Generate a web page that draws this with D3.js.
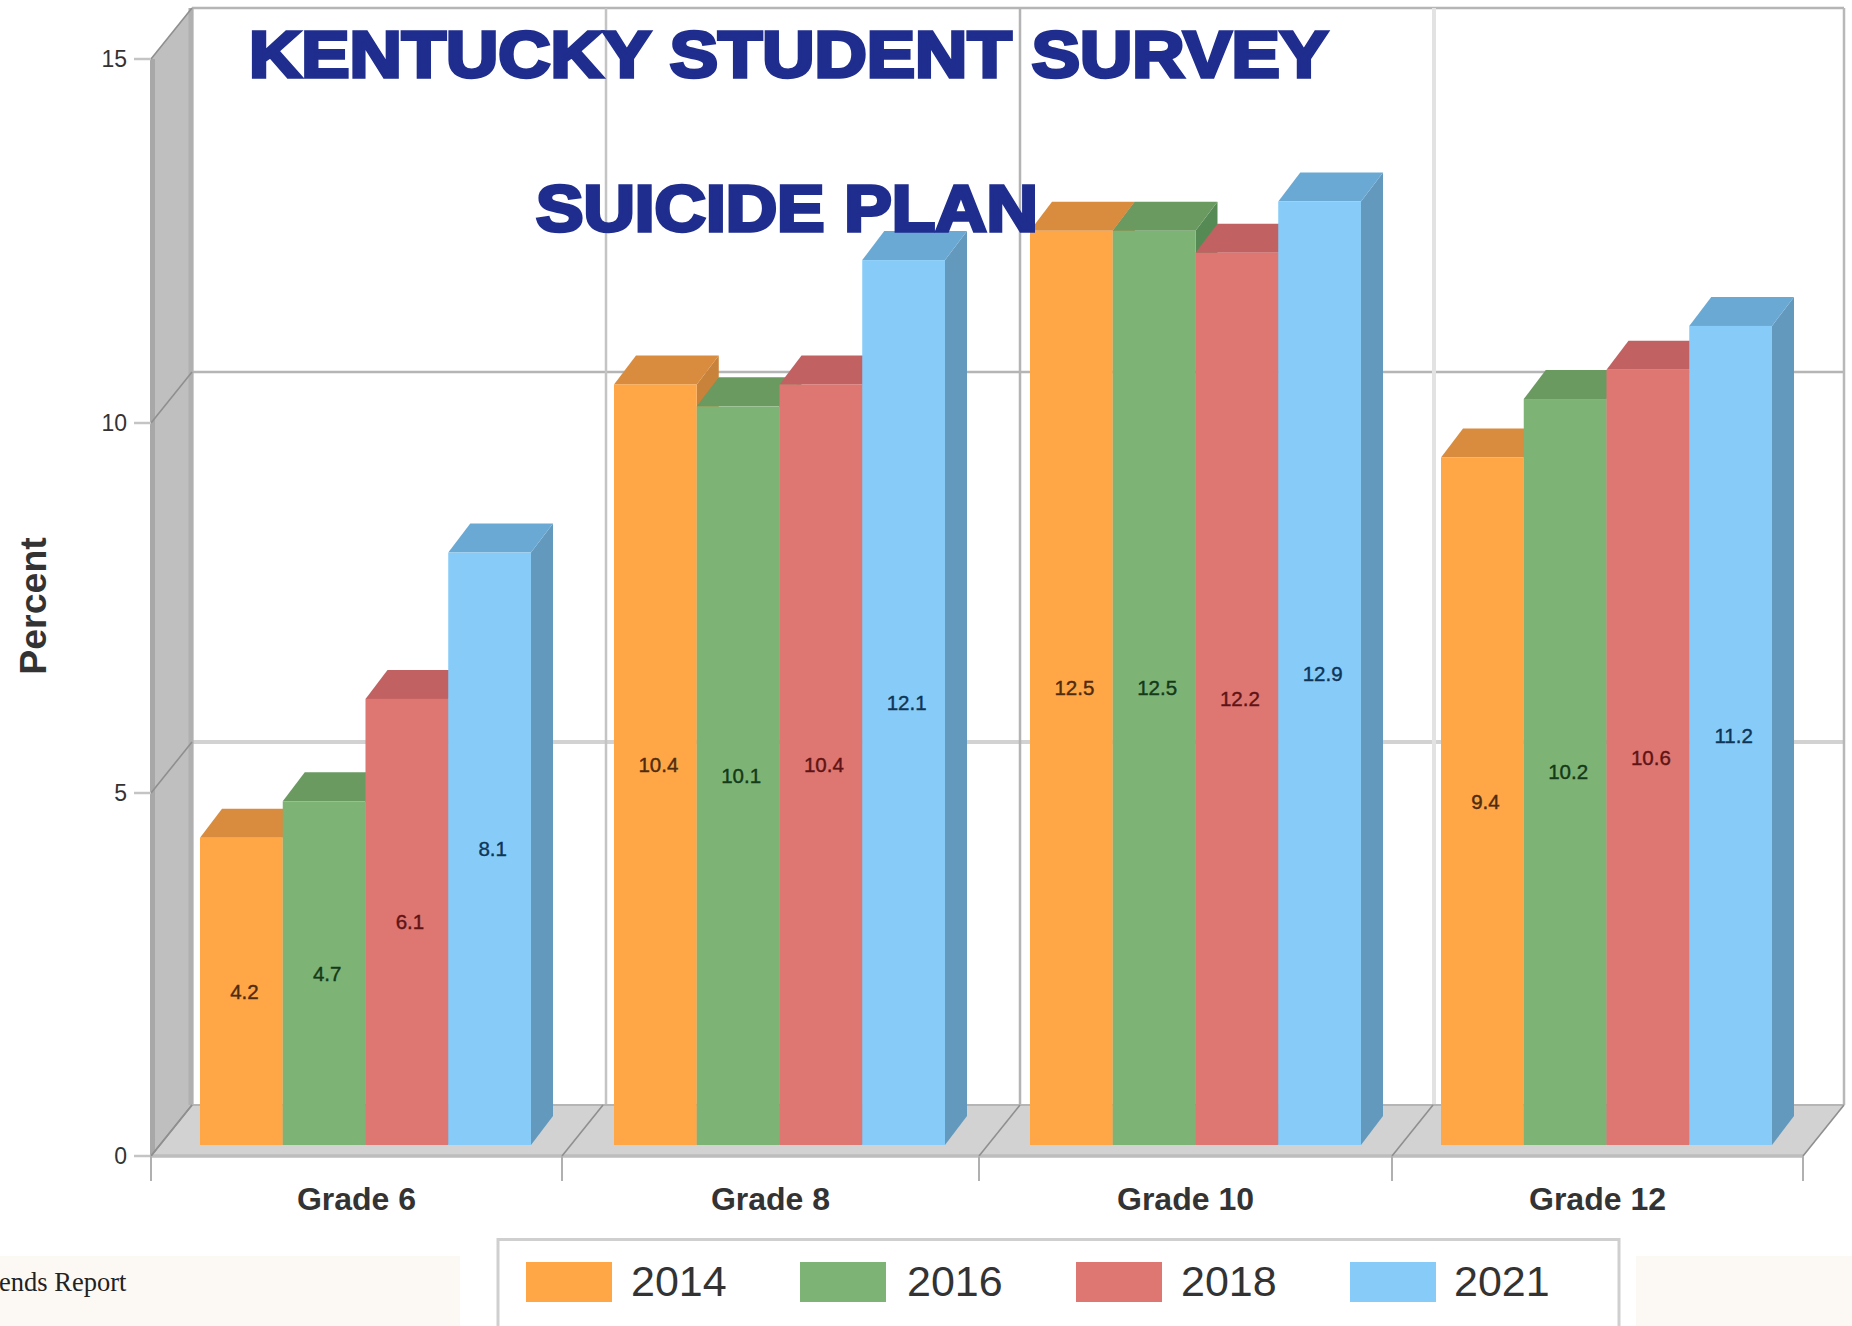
<!DOCTYPE html>
<html>
<head>
<meta charset="utf-8">
<script src="https://cdn.jsdelivr.net/npm/d3@7/dist/d3.min.js"></script>
<style>
html, body { margin: 0; padding: 0; background: #fff; overflow: hidden; }
svg { display: block; }
text { font-family: "Liberation Sans", Arial, sans-serif; }
</style>
</head>
<body>
<script>
// Survey results: percent of students reporting a suicide plan, by grade and year
const grades = ["Grade 6", "Grade 8", "Grade 10", "Grade 12"];
const years = ["2014", "2016", "2018", "2021"];
const values2014 = [4.2, 10.4, 12.5, 9.4];
const values2016 = [4.7, 10.1, 12.5, 10.2];
const values2018 = [6.1, 10.4, 12.2, 10.6];
const values2021 = [8.1, 12.1, 12.9, 11.2];
const seriesValues = [values2014, values2016, values2018, values2021];
const yTicks = [0, 5, 10, 15];
const frontColors = ["#ffa747", "#7eb376", "#de7672", "#87ccf9"];
const topColors = ["#d98c3e", "#6a9a60", "#c26162", "#6ba9d5"];
const sideColors = ["#c98239", "#558a55", "#b35a5a", "#6399bd"];
const labelColors = ["#4f2c10", "#143a18", "#5e1414", "#0e3558"];

const width = 1852, height = 1326;
const svg = d3.select("body").append("svg").attr("width", width).attr("height", height);

// Cream page strips behind the legend row
svg.append("rect").attr("x", 0).attr("y", 1256).attr("width", 460).attr("height", 70).attr("fill", "#fcf9f4");
svg.append("rect").attr("x", 1636).attr("y", 1256).attr("width", 216).attr("height", 70).attr("fill", "#fcf9f4");
svg.append("text").attr("x", -1).attr("y", 1291)
  .style("font-family", '"Liberation Serif", serif').attr("font-size", 26.5).attr("fill", "#222")
  .text("ends Report");

// Scales: the chart has a 3D box, so the value axis sits on the front plane
const depthX = 41, depthY = 51;
const axisEnd = 1803;
const tickX = d3.scaleOrdinal().domain(grades).range([151, 562, 979, 1392]);
const wallX = d3.scaleOrdinal().domain(grades).range([192, 606, 1020, 1434]);
const wallLine = d3.scaleOrdinal().domain(grades).range(["#b4b4b4", "#c4c4c4", "#b4b4b4", "#e2e2e2"]);
const groupX = d3.scaleOrdinal().domain(grades).range([200, 614, 1030, 1441]);
const x1 = d3.scaleBand().domain(years).range([0, 331]);
const y = d3.scaleLinear().domain(yTicks).range([1156, 793, 423, 59]);
const barHeight = d3.scaleLinear().domain([0, 15]).range([0, 1097]);
const barBase = 1145, barDx = 22, barDy = 29;
const labelShift = 3;

const pts = a => a.map(p => p.join(",")).join(" ");

// Back wall grid
const grid = svg.append("g");
yTicks.slice(1).forEach(t => {
  grid.append("line")
    .attr("x1", 151 + depthX).attr("x2", axisEnd + depthX)
    .attr("y1", y(t) - depthY).attr("y2", y(t) - depthY)
    .attr("stroke", t === 5 ? "#d2d2d2" : "#b5b5b5")
    .attr("stroke-width", t === 5 ? 4 : 2.5);
});
grades.forEach(g => {
  grid.append("line").attr("x1", wallX(g)).attr("x2", wallX(g))
    .attr("y1", y(15) - depthY).attr("y2", y(0) - depthY)
    .attr("stroke", wallLine(g)).attr("stroke-width", g === "Grade 12" ? 4 : 2.5);
});
grid.append("line").attr("x1", axisEnd + depthX).attr("x2", axisEnd + depthX)
  .attr("y1", y(15) - depthY).attr("y2", y(0) - depthY)
  .attr("stroke", "#b8b8b8").attr("stroke-width", 2.5);

// Left wall
svg.append("polygon")
  .attr("points", pts([[151, y(15)], [192, y(15) - depthY], [192, y(0) - depthY], [151, y(0)]]))
  .attr("fill", "#bfbfbf");
svg.append("line").attr("x1", 152.5).attr("x2", 152.5).attr("y1", y(15)).attr("y2", y(0))
  .attr("stroke", "#a8a8a8").attr("stroke-width", 5);
svg.append("line").attr("x1", 191).attr("x2", 191).attr("y1", y(15) - depthY).attr("y2", y(0) - depthY)
  .attr("stroke", "#b0b0b0").attr("stroke-width", 5);

// Floor
svg.append("polygon")
  .attr("points", pts([[151, y(0)], [192, y(0) - depthY], [axisEnd + depthX, y(0) - depthY], [axisEnd, y(0)]]))
  .attr("fill", "#d2d2d2");
svg.append("line").attr("x1", 192).attr("x2", axisEnd + depthX).attr("y1", y(0) - depthY).attr("y2", y(0) - depthY)
  .attr("stroke", "#b5b5b5").attr("stroke-width", 2);
svg.append("line").attr("x1", 151).attr("x2", axisEnd).attr("y1", y(0)).attr("y2", y(0))
  .attr("stroke", "#bdbdbd").attr("stroke-width", 3.5);

// Depth edges running from each axis tick back to the wall
yTicks.forEach(t => {
  svg.append("line").attr("x1", 151).attr("y1", y(t)).attr("x2", 192).attr("y2", y(t) - depthY)
    .attr("stroke", "#8f8f8f").attr("stroke-width", 1.6);
  svg.append("line").attr("x1", 134).attr("y1", y(t)).attr("x2", 151).attr("y2", y(t))
    .attr("stroke", "#c4c4c4").attr("stroke-width", 2.5);
  svg.append("text").attr("x", 127).attr("y", y(t)).attr("dy", "0.36em")
    .attr("text-anchor", "end").attr("font-size", 23).attr("fill", "#333").text(t);
});
[...grades.map(g => tickX(g)), axisEnd].forEach(xx => {
  svg.append("line").attr("x1", xx).attr("y1", y(0)).attr("x2", xx + depthX).attr("y2", y(0) - depthY)
    .attr("stroke", "#8f8f8f").attr("stroke-width", 1.6);
  svg.append("line").attr("x1", xx).attr("y1", y(0)).attr("x2", xx).attr("y2", 1181)
    .attr("stroke", "#b0b0b0").attr("stroke-width", 2);
});

// Bars, left to right so each covers the side face of the one before it
grades.forEach((g, gi) => {
  const group = svg.append("g").attr("class", "group");
  years.forEach((yr, si) => {
    const v = seriesValues[si][gi];
    const xl = groupX(g) + x1(yr), w = x1.bandwidth();
    const top = barBase - barHeight(v);
    group.append("polygon")
      .attr("points", pts([[xl + w, top], [xl + w + barDx, top - barDy], [xl + w + barDx, barBase - barDy], [xl + w, barBase]]))
      .attr("fill", sideColors[si]);
    group.append("polygon")
      .attr("points", pts([[xl, top], [xl + barDx, top - barDy], [xl + w + barDx, top - barDy], [xl + w, top]]))
      .attr("fill", topColors[si]);
    group.append("rect").attr("x", xl).attr("y", top).attr("width", w).attr("height", barHeight(v))
      .attr("fill", frontColors[si]);
  });
  years.forEach((yr, si) => {
    const v = seriesValues[si][gi];
    group.append("text")
      .attr("x", groupX(g) + x1(yr) + x1.bandwidth() / 2 + labelShift)
      .attr("y", barBase - barHeight(v) / 2).attr("dy", "0.36em")
      .attr("text-anchor", "middle").attr("font-size", 20.5).attr("fill", labelColors[si])
      .attr("stroke", labelColors[si]).attr("stroke-width", 0.4)
      .text(v.toFixed(1));
  });
});

// Category labels, centred between their ticks
const tickEdges = [...grades.map(g => tickX(g)), axisEnd];
grades.forEach((g, i) => {
  svg.append("text").attr("x", (tickEdges[i] + tickEdges[i + 1]) / 2).attr("y", 1210)
    .attr("text-anchor", "middle").attr("font-size", 32).attr("font-weight", "bold").attr("fill", "#333").text(g);
});

// Value axis title
svg.append("text").attr("transform", "translate(46,606) rotate(-90)")
  .attr("text-anchor", "middle").attr("font-size", 37.5).attr("font-weight", "bold").attr("fill", "#333").text("Percent");

// Heading in two lines
const titleLines = [
  { text: "KENTUCKY STUDENT SURVEY", x: 249, y: 77, len: 1079 },
  { text: "SUICIDE PLAN", x: 536, y: 231, len: 502 }
];
titleLines.forEach(t => {
  svg.append("text").attr("x", t.x).attr("y", t.y)
    .attr("font-size", 65).attr("font-weight", "bold").attr("fill", "#1f2d8e")
    .attr("stroke", "#1f2d8e").attr("stroke-width", 3.5).attr("stroke-linejoin", "miter")
    .attr("textLength", t.len).attr("lengthAdjust", "spacingAndGlyphs").text(t.text);
});

// Legend
svg.append("path").attr("d", "M498,1326V1239.5H1619V1326").attr("fill", "#fff")
  .attr("stroke", "#cfcfcf").attr("stroke-width", 3);
const legendX = d3.scaleOrdinal().domain(years).range([526, 800, 1076, 1350]);
const legendLabelX = d3.scaleOrdinal().domain(years).range([631, 907, 1181, 1454]);
years.forEach((yr, si) => {
  svg.append("rect").attr("x", legendX(yr)).attr("y", 1262).attr("width", 86).attr("height", 40).attr("fill", frontColors[si]);
  svg.append("text").attr("x", legendLabelX(yr)).attr("y", 1296).attr("font-size", 43).attr("fill", "#333").text(yr);
});
</script>
</body>
</html>
